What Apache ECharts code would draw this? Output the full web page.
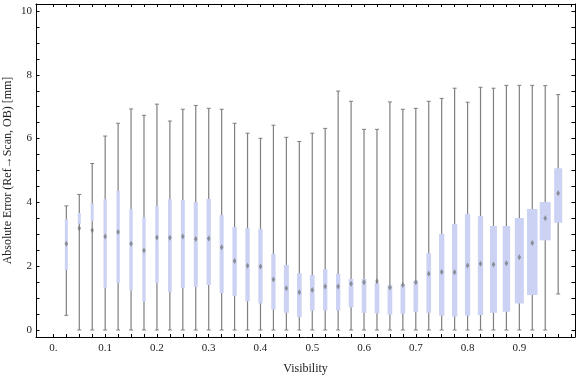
<!DOCTYPE html>
<html lang="en">
<head>
    <meta charset="UTF-8">
    <title>Absolute Error vs Visibility</title>
    <script src="https://cdn.jsdelivr.net/npm/echarts@6/dist/echarts.min.js"></script>
    <style>
        html, body { margin: 0; padding: 0; background: #fff; }
        #main { width: 576px; height: 377px; }
    </style>
</head>
<body>
<div id="main"></div>
<script type="text/javascript">
    // visibility bins (box centres)
    var visibility = [0.025, 0.05, 0.075, 0.1, 0.125, 0.15, 0.175, 0.2, 0.225, 0.25,
        0.275, 0.3, 0.325, 0.35, 0.375, 0.4, 0.425, 0.45, 0.475, 0.5,
        0.525, 0.55, 0.575, 0.6, 0.625, 0.65, 0.675, 0.7, 0.725, 0.75,
        0.775, 0.8, 0.825, 0.85, 0.875, 0.9, 0.925, 0.95, 0.975];
    var whiskerLow = [0.46, 0, 0, 0, 0, 0, 0, 0, 0, 0,
        0, 0, 0, 0, 0, 0, 0, 0, 0, 0,
        0, 0, 0, 0, 0, 0, 0, 0, 0, 0,
        0, 0, 0, 0, 0, 0, 0, 0, 1.13];
    var q1 = [1.88, 3.33, 3.42, 1.32, 1.47, 1.24, 0.88, 1.47, 1.19, 1.32,
        1.35, 1.41, 1.16, 1.07, 0.90, 0.83, 0.64, 0.54, 0.40, 0.61,
        0.61, 0.61, 0.71, 0.54, 0.52, 0.48, 0.51, 0.57, 0.54, 0.45,
        0.42, 0.45, 0.47, 0.54, 0.57, 0.83, 1.10, 2.81, 3.36];
    var median = [2.70, 3.19, 3.13, 2.93, 3.07, 2.70, 2.49, 2.90, 2.89, 2.93,
        2.85, 2.87, 2.59, 2.16, 2.01, 1.99, 1.58, 1.31, 1.18, 1.25,
        1.36, 1.36, 1.45, 1.50, 1.53, 1.33, 1.41, 1.50, 1.76, 1.82,
        1.81, 2.02, 2.08, 2.05, 2.09, 2.28, 2.73, 3.50, 4.29];
    var q3 = [3.47, 3.67, 3.97, 4.10, 4.36, 3.79, 3.53, 3.89, 4.10, 4.08,
        4.01, 4.11, 3.60, 3.23, 3.19, 3.17, 2.38, 2.04, 1.78, 1.72,
        1.91, 1.76, 1.60, 1.60, 1.47, 1.41, 1.43, 1.54, 2.41, 3.01,
        3.32, 3.64, 3.57, 3.26, 3.26, 3.51, 3.79, 4.01, 5.07];
    var whiskerHigh = [3.89, 4.25, 5.22, 6.08, 6.48, 6.93, 6.73, 7.08, 6.55, 6.92,
        7.04, 6.95, 6.92, 6.48, 6.17, 6.01, 6.42, 6.04, 5.91, 6.17,
        6.32, 7.49, 7.17, 6.29, 6.29, 7.15, 6.92, 6.95, 7.17, 7.26,
        7.58, 7.14, 7.61, 7.58, 7.67, 7.67, 7.67, 7.66, 7.38];

    var xTickLabels = [0, 0.1, 0.2, 0.3, 0.4, 0.5, 0.6, 0.7, 0.8, 0.9];
    var yTickLabels = [0, 2, 4, 6, 8, 10];

    // box widths in px, as drawn in the original
    var boxWidth = [3, 3, 3, 3.3, 3.3, 3.3, 3.3, 3.3, 3.7, 4,
        4, 4.3, 4, 4.3, 4.3, 4.3, 4.3, 5, 4.7, 4.7,
        4.3, 4.3, 4.7, 4.7, 4.7, 4.7, 4.7, 4.7, 4.7, 5.3,
        5.3, 5.3, 5.3, 7, 7.5, 9, 10.5, 11, 8];

    var xTicks = [];
    for (var i = 0; i <= 40; i++) xTicks.push(i * 0.025);
    var yTicks = [];
    for (var j = 0; j <= 20; j++) yTicks.push(j * 0.5);

    var serif = '"Liberation Serif", "Times New Roman", serif';
    var X_MIN = -0.0336, X_MAX = 1.0075, Y_MIN = -0.22, Y_MAX = 10.22;

    var boxData = visibility.map(function (v, i) {
        return [v, whiskerLow[i], q1[i], median[i], q3[i], whiskerHigh[i]];
    });

    function renderBox(params, api) {
        var x = api.value(0);
        var pLow = api.coord([x, api.value(1)]);
        var pQ1 = api.coord([x, api.value(2)]);
        var pMed = api.coord([x, api.value(3)]);
        var pQ3 = api.coord([x, api.value(4)]);
        var pHigh = api.coord([x, api.value(5)]);
        var cx = pLow[0];
        var w = boxWidth[params.dataIndex];
        var gray = '#7f7f7f';
        return {
            type: 'group',
            children: [
                {type: 'line', shape: {x1: cx, y1: pLow[1], x2: cx, y2: pHigh[1]},
                    style: {stroke: gray, lineWidth: 1.2}},
                {type: 'line', shape: {x1: cx - 2, y1: pLow[1], x2: cx + 2, y2: pLow[1]},
                    style: {stroke: gray, lineWidth: 1}},
                {type: 'line', shape: {x1: cx - 2, y1: pHigh[1], x2: cx + 2, y2: pHigh[1]},
                    style: {stroke: gray, lineWidth: 1}},
                {type: 'rect', shape: {x: cx - w / 2, y: pQ3[1], width: w, height: pQ1[1] - pQ3[1]},
                    style: {fill: '#cbd2f3'}},
                {type: 'polygon', shape: {points: [[cx, pMed[1] - 3], [cx + 1.8, pMed[1]], [cx, pMed[1] + 3], [cx - 1.8, pMed[1]]]},
                    style: {fill: '#6f6f6f', opacity: 0.7}}
            ]
        };
    }

    function frameAxis(pos, extra) {
        var a = {
            type: 'value',
            position: pos,
            offset: 0,
            axisLine: {show: true, onZero: false, lineStyle: {color: '#000', width: 1}},
            splitLine: {show: false},
            axisLabel: {show: false},
            axisTick: {show: true, inside: true, length: 3, lineStyle: {color: '#000'}}
        };
        for (var k in extra) a[k] = extra[k];
        return a;
    }

    var myChart = echarts.init(document.getElementById('main'));
    var option = {
        animation: false,
        grid: {left: 36, right: 1, top: 4, bottom: 40, containLabel: false, outerBoundsMode: 'none'},
        xAxis: [
            frameAxis('bottom', {
                min: X_MIN, max: X_MAX,
                name: 'Visibility',
                nameLocation: 'middle',
                nameGap: 26,
                nameMoveOverlap: false,
                nameTextStyle: {fontFamily: serif, fontSize: 12, color: '#222'},
                axisTick: {show: true, inside: true, length: 3, customValues: xTicks, lineStyle: {color: '#000'}},
                axisLabel: {
                    show: true, customValues: xTickLabels, margin: 6,
                    fontFamily: serif, fontSize: 11, color: '#222',
                    formatter: function (v) { return v === 0 ? '0.' : v.toFixed(1); }
                }
            }),
            frameAxis('top', {
                min: X_MIN, max: X_MAX,
                axisTick: {show: true, inside: true, length: 3, customValues: xTicks, lineStyle: {color: '#000'}}
            })
        ],
        yAxis: [
            frameAxis('left', {
                min: Y_MIN, max: Y_MAX,
                name: 'Absolute Error (Ref\u2192Scan, OB) [mm]',
                nameLocation: 'middle',
                nameGap: 22,
                nameMoveOverlap: false,
                nameTextStyle: {fontFamily: serif, fontSize: 12, color: '#222'},
                axisTick: {show: true, inside: true, length: 3.5, customValues: yTicks, lineStyle: {color: '#000'}},
                axisLabel: {show: true, customValues: yTickLabels, margin: 4, fontFamily: serif, fontSize: 11, color: '#222'}
            }),
            frameAxis('right', {
                min: Y_MIN, max: Y_MAX,
                axisTick: {show: true, inside: true, length: 3.5, customValues: yTicks, lineStyle: {color: '#000'}}
            })
        ],
        series: [
            {
                type: 'custom',
                xAxisIndex: 0,
                yAxisIndex: 0,
                renderItem: renderBox,
                encode: {x: 0, y: [1, 2, 3, 4, 5]},
                data: boxData
            }
        ]
    };
    myChart.setOption(option);
</script>
</body>
</html>
